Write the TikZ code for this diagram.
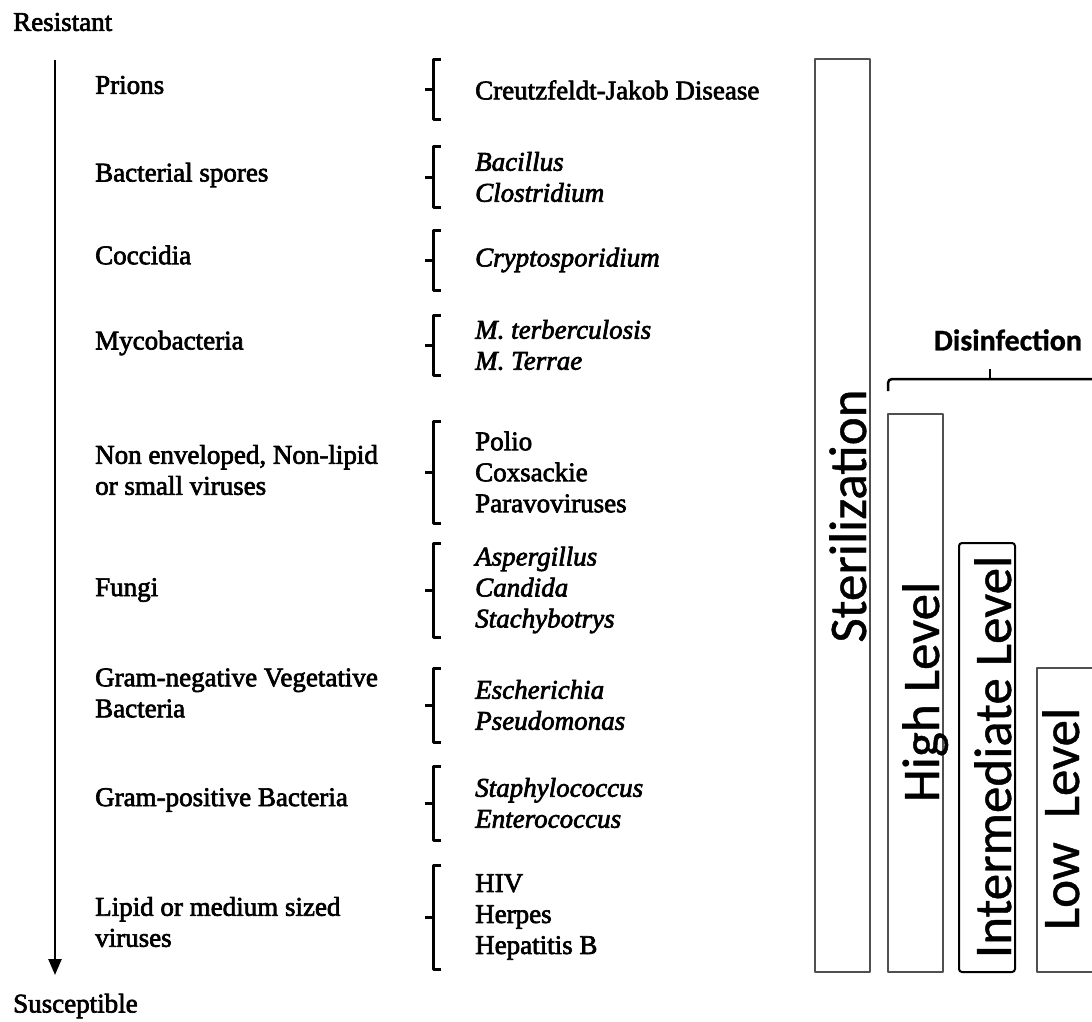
\documentclass[tikz,border=0pt]{standalone}
\usepackage{fontspec}
\usetikzlibrary{arrows.meta}
\newfontfamily\figserif{Liberation Serif}[FakeBold=2.5]
\newfontfamily\figsans{Carlito}[FakeBold=0.8]
\definecolor{ink}{HTML}{000000}
\definecolor{barline}{HTML}{505050}
\newcommand{\figfontsize}{\fontsize{27}{31}\selectfont}
\newcommand{\barfontsize}{\fontsize{53}{60}\selectfont}
\tikzset{
  every picture/.style = {font=\figserif\figfontsize, line join=round},
  grouptext/.style     = {anchor=west, inner sep=0pt, align=left, text=ink},
  scalearrow/.style    = {line width=2.5pt, ink, -{Triangle[width=13pt, length=16pt]}},
  brak/.style          = {line width=3pt, ink},
  levelbar/.style      = {line width=2pt, draw=barline},
  bartext/.style       = {font=\figsans\barfontsize, rotate=90, anchor=base, inner sep=0pt, text=ink},
}

\begin{document}
\begin{tikzpicture}[x=1pt, y=-1pt]
  \useasboundingbox (0,0) rectangle (1092,1022);

  % ---------- left: resistance scale ------------------------------------------
  \node[grouptext] (resist) at (13,22)   {Resistant};
  \node[grouptext] (suscep) at (13,1006) {Susceptible};
  \coordinate (top) at (55,60);
  \coordinate (tip) at (55,975);
  \draw[scalearrow] (top) -- (tip);

  % ---------- organism groups: class y, bracket y, half bracket, class, examples
  \foreach \yl/\yc/\hh/\cls/\ex [count=\i] in {
      85/90/30/{Prions}/{Creutzfeldt-Jakob Disease},
      175/177/30/{Bacterial spores}/{\textit{Bacillus}\\\textit{Clostridium}},
      255/260/30/{Coccidia}/{\textit{Cryptosporidium}},
      343/345/30/{Mycobacteria}/{\textit{M. terberculosis}\\\textit{M. Terrae}},
      470/472/51/{Non enveloped, Non-lipid\\or small viruses}/{Polio\\Coxsackie\\Paravoviruses},
      590/590/47/{Fungi}/{\textit{Aspergillus}\\\textit{Candida}\\\textit{Stachybotrys}},
      693/705/37/{Gram-negative Vegetative\\Bacteria}/{\textit{Escherichia}\\\textit{Pseudomonas}},
      800/803/37/{Gram-positive Bacteria}/{\textit{Staphylococcus}\\\textit{Enterococcus}},
      922/917/52/{Lipid or medium sized\\viruses}/{HIV\\Herpes\\Hepatitis B}%
  }{
    \node[grouptext] (cls\i) at (95,\yl)  {\cls};
    \node[grouptext] (ex\i)  at (475,\yc) {\ex};
    \draw[brak] (441,{\yc-\hh}) -- (433,{\yc-\hh}) -- (433,{\yc+\hh}) -- (441,{\yc+\hh})
                (433,\yc) -- (425,\yc);
  }

  % ---------- right: treatment levels -----------------------------------------
  \draw[levelbar] (815,59)  rectangle (870,972);
  \draw[levelbar] (888,414) rectangle (943,972);
  \draw[levelbar, draw=ink, rounded corners=3pt] (959,543) rectangle (1015,972);
  \draw[levelbar] (1092,668) -- (1037,668) -- (1037,972) -- (1092,972);   % runs off the right edge

  \node[bartext] (steril) at (866,516)  {Sterilization};
  \node[bartext] (high)   at (939,692)  {High Level};
  \node[bartext] (inter)  at (1011,757) {Intermediate Level};
  \node[bartext] (low)    at (1079,819) {Low~~Level};

  % disinfection brace over the three lower bars
  \node[font=\figsans\bfseries\fontsize{30}{36}\selectfont, inner sep=0pt] (disinf) at (1008,340) {Disinfection};
  \draw[brak, line width=2.5pt, rounded corners=4pt] (888,391) |- (1092,379);
  \draw[brak, line width=2.5pt] (990,379) -- (990,369);
\end{tikzpicture}
\end{document}
